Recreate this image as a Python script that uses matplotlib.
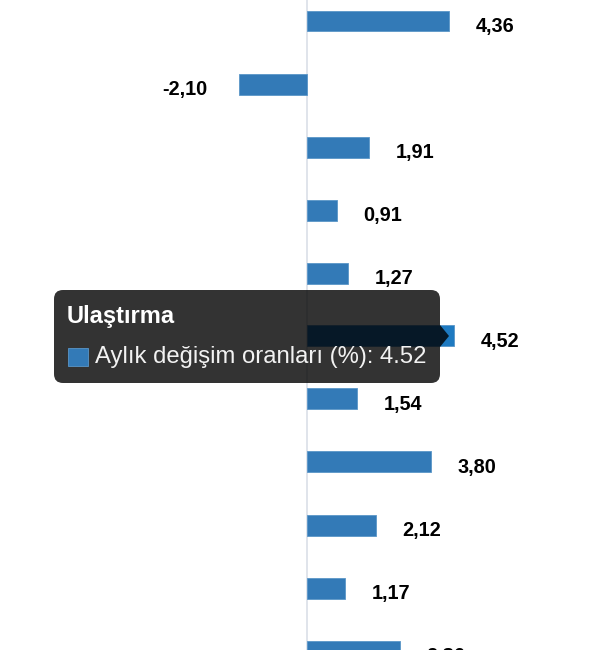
import matplotlib
matplotlib.use("Agg")
import matplotlib.pyplot as plt
from matplotlib.patches import FancyBboxPatch, Rectangle, Polygon

plt.rcParams['font.family'] = ['Liberation Sans', 'DejaVu Sans']

# ---- data (top to bottom) ----
categories = [
    "Alkollü içecekler ve tütün", "Giyim ve ayakkabı", "Konut", "Mobilya",
    "Sağlık", "Ulaştırma", "Haberleşme", "Eğlence ve kültür", "Eğitim",
    "Lokanta ve oteller", "Çeşitli mal ve hizmetler",
]
values = [4.36, -2.10, 1.91, 0.91, 1.27, 4.52, 1.54, 3.80, 2.12, 1.17, 2.86]
series_name = "Aylık değişim oranları (%)"
hover_index = 5

bar_color = '#337ab7'
hover_color = '#1e7ac1'

W, H = 610, 650
fig = plt.figure(figsize=(W / 100, H / 100), dpi=100)
ax = fig.add_axes([0, 0, 1, 1])

px_per_unit = 32.6
zero_px = 307
row_px = 63
first_center_px = 21
ax.set_xlim(-zero_px / px_per_unit, (W - zero_px) / px_per_unit)
ax.set_ylim((H - first_center_px) / row_px, -first_center_px / row_px)
ax.axis('off')

ax.axvline(0, color='#e0e4eb', lw=1.4, zorder=1)

ypos = list(range(len(values)))
colors = [hover_color if i == hover_index else bar_color for i in ypos]
ax.barh(ypos, values, height=21 / row_px, color=colors,
        edgecolor='#5a96c8', linewidth=0.6, zorder=2)

for i, v in zip(ypos, values):
    txt = f"{v:.2f}".replace('.', ',')
    if v >= 0:
        ax.annotate(txt, xy=(v, i), xytext=(19, -7.8), textcoords='offset points',
                    ha='left', va='baseline', fontsize=14.3, fontweight='bold',
                    color='#000000', zorder=3, annotation_clip=False)
    else:
        ax.annotate(txt, xy=(v, i), xytext=(-22, -7.8), textcoords='offset points',
                    ha='right', va='baseline', fontsize=14.3, fontweight='bold',
                    color='#000000', zorder=3, annotation_clip=False)

# ---- tooltip overlay (pixel coordinates) ----
ov = fig.add_axes([0, 0, 1, 1])
ov.set_xlim(0, W)
ov.set_ylim(H, 0)
ov.axis('off')
ov.patch.set_alpha(0)

box = FancyBboxPatch((54, 290), 386, 93, boxstyle="round,pad=0,rounding_size=9",
                     facecolor=(0, 0, 0, 0.8), edgecolor='none', zorder=5)
ov.add_patch(box)
arrow = Polygon([(440, 325), (449, 336), (440, 347)], closed=True,
                facecolor=(0, 0, 0, 0.8), edgecolor='none', zorder=5)
ov.add_patch(arrow)

ov.text(67, 323, categories[hover_index], color='white', fontsize=17,
        fontweight='bold', ha='left', va='baseline', zorder=6)
ov.add_patch(Rectangle((68, 348), 20, 18, facecolor=bar_color,
                       edgecolor='#5a96c8', lw=0.6, zorder=6))
ov.text(95, 363, f"{series_name}: {values[hover_index]:.2f}", color='#f2f2f2',
        fontsize=17.2, ha='left', va='baseline', zorder=6)

fig.savefig('out.png', dpi=100)
